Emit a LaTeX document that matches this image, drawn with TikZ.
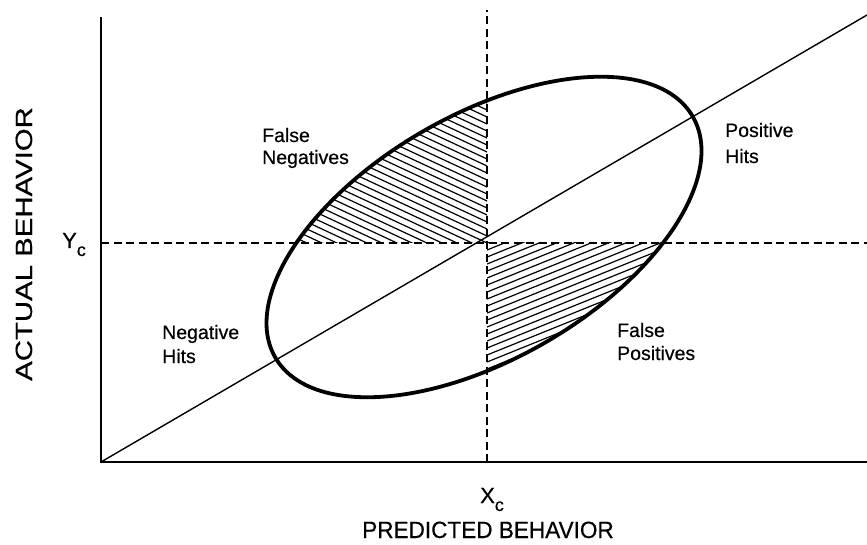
\documentclass[tikz,border=0pt]{standalone}
\usepackage{fontspec}
\setmainfont{Liberation Sans}[FakeBold=0.5]
\begin{document}
\begin{tikzpicture}[x=1pt,y=1pt,
  axisline/.style={line width=2.3pt},
  guide/.style={line width=1.8pt, dash pattern=on 8pt off 4.5pt},
  oval/.style={line width=3.8pt},
  diag/.style={line width=1.4pt},
  hatchline/.style={line width=1.2pt},
  lbl/.style={font=\fontsize{19.5}{23}\selectfont, inner sep=0pt, anchor=base west},
  ttl/.style={font=\fontsize{23.5}{28}\selectfont, inner sep=0pt}]
\useasboundingbox (0,0) rectangle (867,544);
\coordinate (O) at (101,82);
\coordinate (ytop) at (101,527);
\coordinate (xend) at (867,82);
\coordinate (dend) at (867,529);
\coordinate (C) at (487,301);
\coordinate (vbot) at (487,82);
\coordinate (vtop) at (487,534);
\coordinate (hl) at (101,301);
\coordinate (hr) at (867,301);
\coordinate (E) at (484,307);
% hatching: false negatives
\begin{scope}
  \clip (101,301) rectangle (487,544);
  \clip[rotate around={30:(E)}] (E) ellipse [x radius=241pt, y radius=122pt];
  \foreach \k in {-40,...,40}
    \draw[hatchline, shift={(487,{301+\k*7})}] (-320,149.2) -- (20,-9.3);
\end{scope}
% hatching: false positives
\begin{scope}
  \clip (487,301) rectangle (867,82);
  \clip[rotate around={30:(E)}] (E) ellipse [x radius=241pt, y radius=122pt];
  \foreach \k in {-40,...,40}
    \draw[hatchline, shift={(487,{301-\k*7})}] (-20,-8.1) -- (320,129.3);
\end{scope}
\draw[guide] (vbot) -- (vtop);
\draw[guide] (hl) -- (hr);
\draw[oval, rotate around={30:(E)}] (E) ellipse [x radius=241pt, y radius=122pt];
\draw[diag] (O) -- (dend);
\draw[axisline] (ytop) -- (O) -- (xend);
% labels
\node[lbl] (fn1) at (262,402) {False};
\node[lbl] (fn2) at (262,380) {Negatives};
\node[lbl] (ph1) at (725,407) {Positive};
\node[lbl] (ph2) at (725,381) {Hits};
\node[lbl] (nh1) at (162,205) {Negative};
\node[lbl] (nh2) at (162,181) {Hits};
\node[lbl] (fp1) at (617,207) {False};
\node[lbl] (fp2) at (617,184) {Positives};
\node[lbl, font=\fontsize{22}{26}\selectfont] (xc) at (480,41) {X\raisebox{-8pt}{\fontsize{18}{20}\selectfont c}};
\node[lbl, font=\fontsize{22}{26}\selectfont] (yc) at (62,296) {Y\raisebox{-8pt}{\fontsize{18}{20}\selectfont c}};
\node[ttl, anchor=base] (xt) at (488,6) {\scalebox{0.96}[1]{PREDICTED BEHAVIOR}};
\node[ttl, rotate=90, anchor=base] (yt) at (32,300) {\scalebox{1.25}[1]{ACTUAL BEHAVIOR}};
\end{tikzpicture}
\end{document}
